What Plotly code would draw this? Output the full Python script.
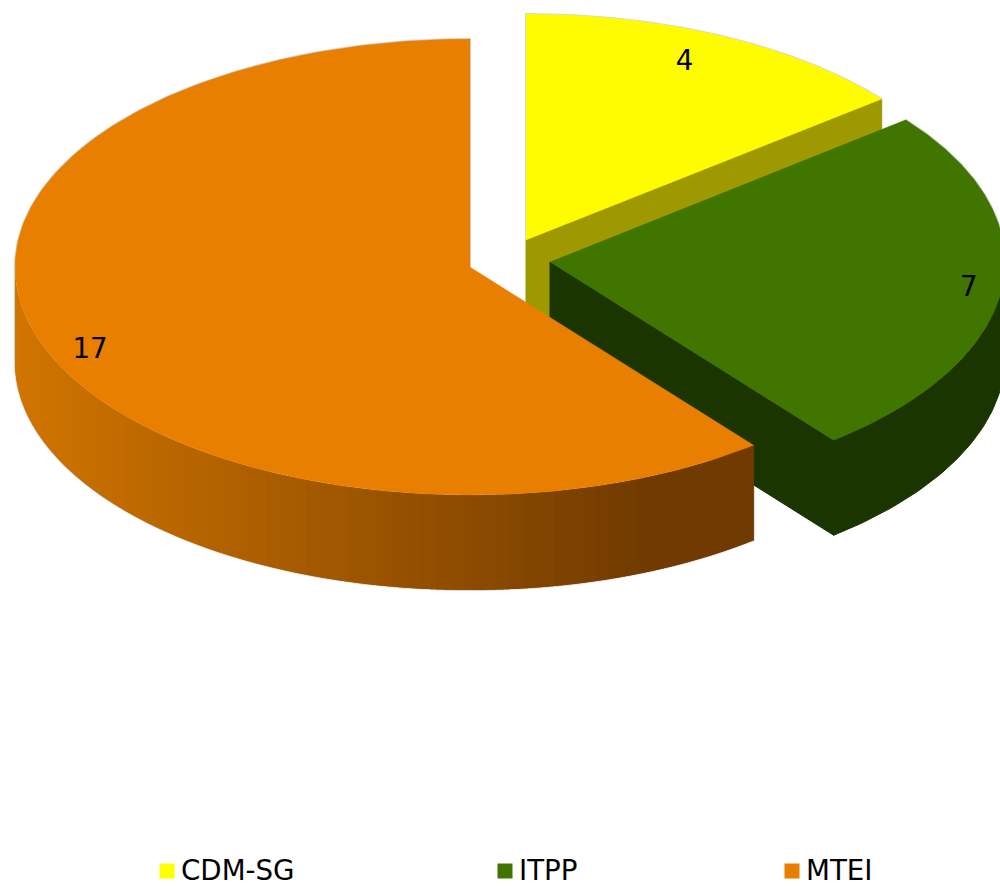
import numpy as np
import plotly.graph_objects as go

# data
categories = ["CDM-SG", "ITPP", "MTEI"]
values = [4, 7, 17]

# styles
top_colors = ["#FFFB00", "#407500", "#E87F00"]
side_colors = ["#9E9900", "#1A3500", "#703A00"]
legend_colors = ["#FFFF00", "#407500", "#E87F00"]
grad_left = (209, 117, 0)
grad_right = (112, 58, 0)
halo = "rgba(120,120,120,0.30)"

# geometry in canvas pixels
W, H = 1000, 886
RX, DEPTH = 455, 95
RY = [226, 228, 228]
centers = [(526, 240), (550, 262), (470, 267)]
label_radius = [0.866, 0.927, 0.909]
label_shift_deg = [-2.0, 0.4, -4.0]
label_dy = 2
legend_x = [167, 505, 792]
legend_y = 871
FONT = "DejaVu Sans"
FONT_SIZE = 27.7

total = sum(values)
edges = np.cumsum([0] + values) / total * 2 * np.pi


def rim(i, a):
    a = np.asarray(a)
    c = centers[i]
    return c[0] + RX * np.sin(a), c[1] - RY[i] * np.cos(a)


def poly(fig, xs, ys, color, line=0.0):
    fig.add_trace(go.Scatter(
        x=list(xs), y=list(ys), mode="lines" if line else "none", fill="toself",
        fillcolor=color, line=dict(color=color, width=line),
        hoverinfo="skip", showlegend=False))


def outline(fig, xs, ys):
    fig.add_trace(go.Scatter(
        x=list(xs), y=list(ys), mode="lines", line=dict(color=halo, width=2),
        hoverinfo="skip", showlegend=False))


def wall(fig, i, a0, a1, color, line=0.0):
    a = np.linspace(a0, a1, 60)
    x, y = rim(i, a)
    poly(fig, np.r_[x, x[::-1]], np.r_[y, y[::-1] + DEPTH], color, line)


def radial_face(fig, i, a, color):
    c = centers[i]
    ex, ey = rim(i, a)
    poly(fig, [c[0], ex, ex, c[0], c[0]],
         [c[1], ey, ey + DEPTH, c[1] + DEPTH, c[1]], color, 1.0)


def sector_top(fig, i, a0, a1, color):
    c = centers[i]
    a = np.linspace(a0, a1, 240)
    x, y = rim(i, a)
    poly(fig, np.r_[c[0], x, c[0]], np.r_[c[1], y, c[1]], color, 0.3)


fig = go.Figure()

# faint halo around the outer silhouettes
a = np.linspace(edges[0], edges[1], 120)
x, y = rim(0, a)
outline(fig, np.r_[centers[0][0], x], np.r_[centers[0][1], y])
a = np.linspace(edges[1], edges[2], 120)
x, y = rim(1, a)
outline(fig, x, y)
a = np.linspace(edges[2], 1.5 * np.pi, 200)
x, y = rim(2, a)
outline(fig, np.r_[x[0], x, x[-1]], np.r_[y[0], y + DEPTH, y[-1]])
a = np.linspace(1.5 * np.pi, edges[3], 200)
x, y = rim(2, a)
outline(fig, np.r_[x, x[-1]], np.r_[y, centers[2][1]])

# slice 0: yellow
radial_face(fig, 0, edges[1], side_colors[0])
sector_top(fig, 0, edges[0], edges[1], top_colors[0])

# slice 1: green
radial_face(fig, 1, edges[2], side_colors[1])
wall(fig, 1, np.pi / 2, edges[2], side_colors[1], 1.0)
sector_top(fig, 1, edges[1], edges[2], top_colors[1])

# slice 2: orange, wall shaded by horizontal position, bands overlap to hide seams
band_edges = np.linspace(1.5 * np.pi, edges[2], 70)
xl = centers[2][0] - RX
step = band_edges[1] - band_edges[0]
for a0, a1 in zip(band_edges[:-1], band_edges[1:]):
    xm = rim(2, 0.5 * (a0 + a1))[0]
    t = min(1.0, max(0.0, (xm - xl) / (650 - xl)))
    col = tuple(int(round(p + (q - p) * t)) for p, q in zip(grad_left, grad_right))
    end = max(a1 + step, edges[2])
    wall(fig, 2, a0, end, "rgb(%d,%d,%d)" % col)
sector_top(fig, 2, edges[2], edges[3], top_colors[2])

# value labels
lx, ly = [], []
for i, c in enumerate(centers):
    mid = 0.5 * (edges[i] + edges[i + 1]) + np.radians(label_shift_deg[i])
    lx.append(c[0] + RX * label_radius[i] * np.sin(mid))
    ly.append(c[1] - RY[i] * label_radius[i] * np.cos(mid) + label_dy)
fig.add_trace(go.Scatter(
    x=lx, y=ly, mode="text", text=[str(v) for v in values],
    textposition="middle center",
    textfont=dict(family=FONT, size=FONT_SIZE, color="#000000"),
    hoverinfo="skip", showlegend=False))

# legend row
fig.add_trace(go.Scatter(
    x=legend_x, y=[legend_y] * 3, mode="markers",
    marker=dict(symbol="square", size=15, color=legend_colors, line=dict(width=0)),
    hoverinfo="skip", showlegend=False))
fig.add_trace(go.Scatter(
    x=[v + 14 for v in legend_x], y=[legend_y + label_dy] * 3, mode="text", text=categories,
    textposition="middle right",
    textfont=dict(family=FONT, size=FONT_SIZE, color="#000000"),
    hoverinfo="skip", showlegend=False))

fig.update_layout(
    width=W, height=H, margin=dict(l=0, r=0, t=0, b=0),
    paper_bgcolor="#FFFFFF", plot_bgcolor="#FFFFFF", showlegend=False,
    xaxis=dict(range=[0, W], visible=False, fixedrange=True),
    yaxis=dict(range=[H, 0], visible=False, fixedrange=True),
)
fig.write_html(
    "out.html", config={"displayModeBar": False},
    post_script="document.body.style.margin='0';document.body.style.overflow='hidden';")
